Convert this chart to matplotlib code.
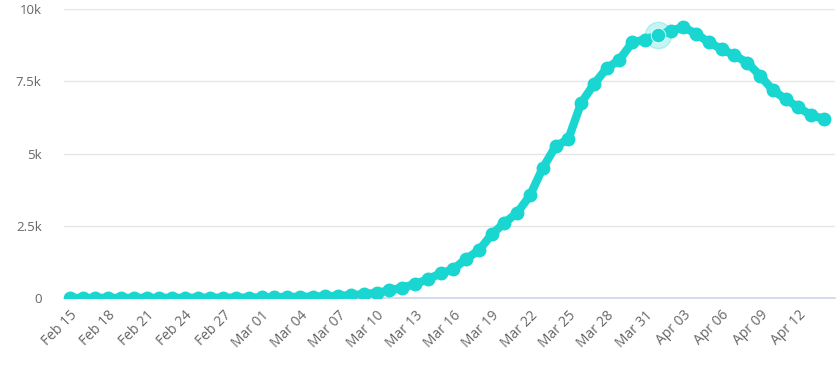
import matplotlib
matplotlib.use('Agg')
import matplotlib.pyplot as plt
import numpy as np
import datetime as dt

plt.rcParams['font.family'] = ['Open Sans', 'DejaVu Sans']

start = dt.date(2020, 2, 15)
values = [3, 3, 4, 4, 4, 5, 5, 6, 6, 7, 8, 9, 10, 12, 14,          # Feb 15-29
          18, 30, 35, 40, 48, 60, 75, 95, 130, 180, 260, 360, 480,  # Mar 1-13
          650, 850, 1000, 1350, 1650, 2200, 2600, 2950, 3550,       # Mar 14-22
          4500, 5250, 5500, 6750, 7400, 7950, 8250, 8850, 8950,     # Mar 23-31
          9100, 9250, 9380, 9150, 8850, 8620, 8400, 8150, 7700,     # Apr 1-9
          7200, 6880, 6600, 6330, 6200]                             # Apr 10-14
dates = [start + dt.timedelta(days=i) for i in range(len(values))]
highlight = 46  # Apr 01
yticks = [0, 2500, 5000, 7500, 10000]
ytick_labels = ['0', '2.5k', '5k', '7.5k', '10k']

color = '#19d6d1'
fig = plt.figure(figsize=(8.4, 3.67), dpi=100)
ax = fig.add_axes([0.076, 0.188, 0.918, 0.787])

x = np.arange(len(values))
ax.plot(x, values, '-o', color=color, linewidth=6, markersize=9, zorder=3)
ax.plot(x[highlight], values[highlight], 'o', color=color, markersize=19, alpha=0.25, zorder=4)
ax.plot(x[highlight], values[highlight], 'o', color=color, markersize=10.5,
        markeredgecolor='white', markeredgewidth=0.6, zorder=5)

ax.set_xlim(-0.47, 59.86)
ax.set_ylim(0, 10000)
ax.set_yticks(yticks)
ax.set_yticklabels(ytick_labels)
tick_idx = x[::3]
ax.set_xticks(tick_idx)
ax.set_xticklabels([dates[i].strftime('%b %d') for i in tick_idx],
                   rotation=45, ha='right', rotation_mode='anchor')

ax.grid(axis='y', color='#e6e6e6', linewidth=1)
ax.set_axisbelow(True)
for s in ['top', 'right', 'left']:
    ax.spines[s].set_visible(False)
ax.spines['bottom'].set_color('#ccd6eb')
ax.spines['bottom'].set_linewidth(1.2)
ax.spines['bottom'].set_zorder(1)
ax.tick_params(axis='both', length=0, labelcolor='#666666')
ax.tick_params(axis='x', labelsize=10, pad=7)
ax.tick_params(axis='y', labelsize=9.5, pad=16)

plt.savefig('out.png', dpi=100)
